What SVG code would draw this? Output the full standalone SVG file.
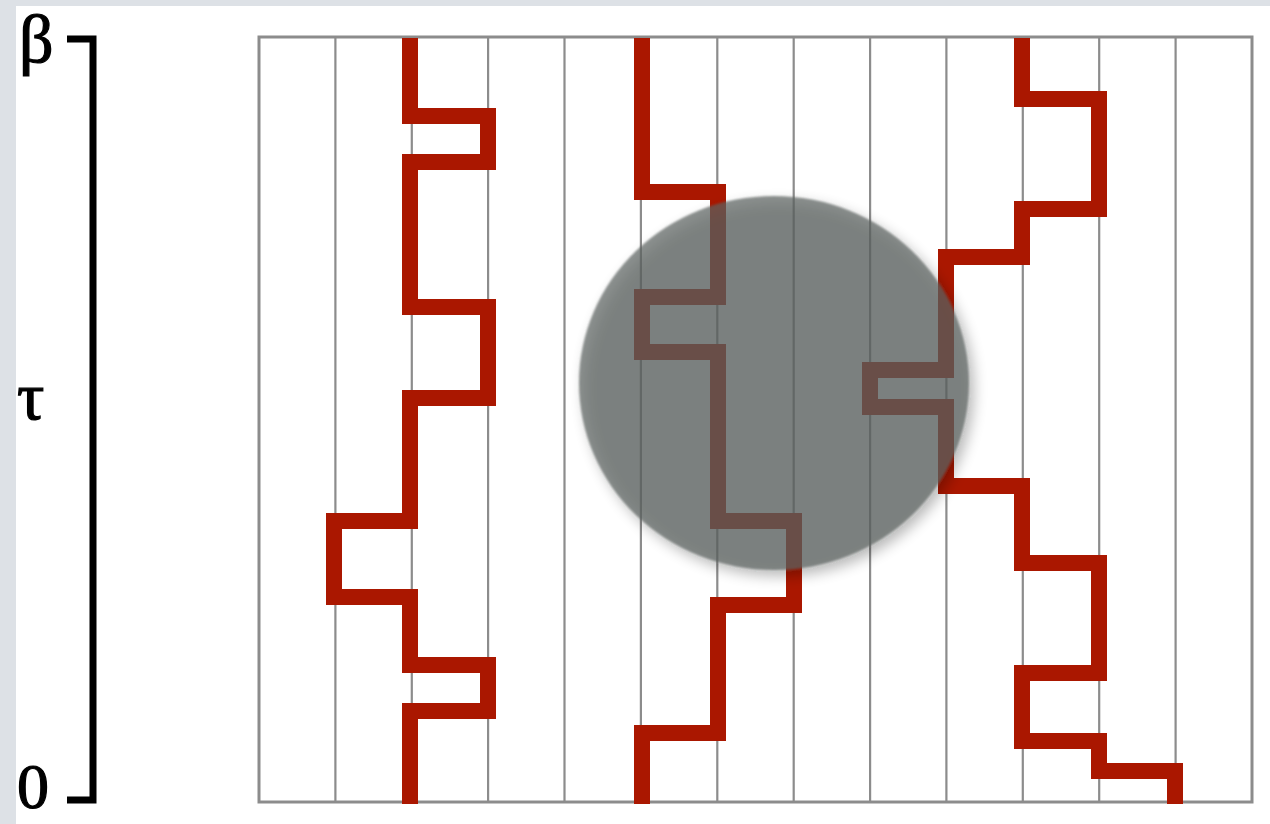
<svg xmlns="http://www.w3.org/2000/svg" width="1270" height="824" viewBox="0 0 1270 824">
<style>
.grid{stroke:#8c8c8c;stroke-width:2.2;fill:none}
.frame{stroke:#8c8c8c;stroke-width:3;fill:none}
.wl{stroke:#aa1700;stroke-width:16;fill:none;stroke-linejoin:miter;stroke-linecap:butt}
.lbl{font-family:"Liberation Serif","Times New Roman",serif;font-size:68px;fill:#000;stroke:#000;stroke-width:1.2}
.brk{stroke:#000;stroke-width:7;fill:none;stroke-linejoin:miter}
</style>
<defs>
<clipPath id="page"><rect x="16" y="6" width="1254" height="818"/></clipPath>
<filter id="soft" x="-20%" y="-20%" width="140%" height="140%">
<feGaussianBlur in="SourceAlpha" stdDeviation="7" result="b"/>
<feOffset in="b" dx="5" dy="6" result="o"/>
<feComponentTransfer in="o" result="s"><feFuncA type="linear" slope="0.4"/></feComponentTransfer>
<feGaussianBlur in="SourceGraphic" stdDeviation="1.2" result="g"/>
<feMerge><feMergeNode in="s"/><feMergeNode in="g"/></feMerge>
</filter>
</defs>
<rect x="0" y="0" width="1270" height="824" fill="#dde1e6"/>
<rect x="16" y="6" width="1254" height="818" fill="#ffffff"/>
<g id="axis">
<path class="brk" d="M67 39 H93 V800 H67"/>
<text class="lbl" x="19" y="62">β</text>
<text class="lbl" x="17" y="419">τ</text>
<text class="lbl" x="17" y="808" style="font-size:64px">0</text>
</g>
<g clip-path="url(#page)">
<g id="grid">
<rect class="frame" x="259" y="37" width="993" height="765"/>
<path class="grid" d="M335.4 37V802M411.8 37V802M488.1 37V802M564.5 37V802M640.9 37V802M717.3 37V802M793.7 37V802M870.1 37V802M946.4 37V802M1022.8 37V802M1099.2 37V802M1175.6 37V802"/>
</g>
<g id="worldlines">
<path id="wl1" class="wl" d="M410 38 V116 H488 V162 H410 V307 H488 V398 H410 V521 H334 V597 H410 V665 H488 V711 H410 V804"/>
<path id="wl2" class="wl" d="M642 38 V192 H718 V297 H642 V352 H718 V521 H794 V605 H718 V733 H642 V804"/>
<path id="wl3" class="wl" d="M1022 38 V99 H1099 V209 H1022 V257 H946 V370 H870 V407 H946 V486 H1022 V563 H1099 V673 H1022 V741 H1099 V771 H1175 V804"/>
</g>
<g id="blob">
<ellipse cx="774" cy="383" rx="195" ry="187" fill="#5c6260" fill-opacity="0.7" filter="url(#soft)"/>
</g>
</g>
</svg>
